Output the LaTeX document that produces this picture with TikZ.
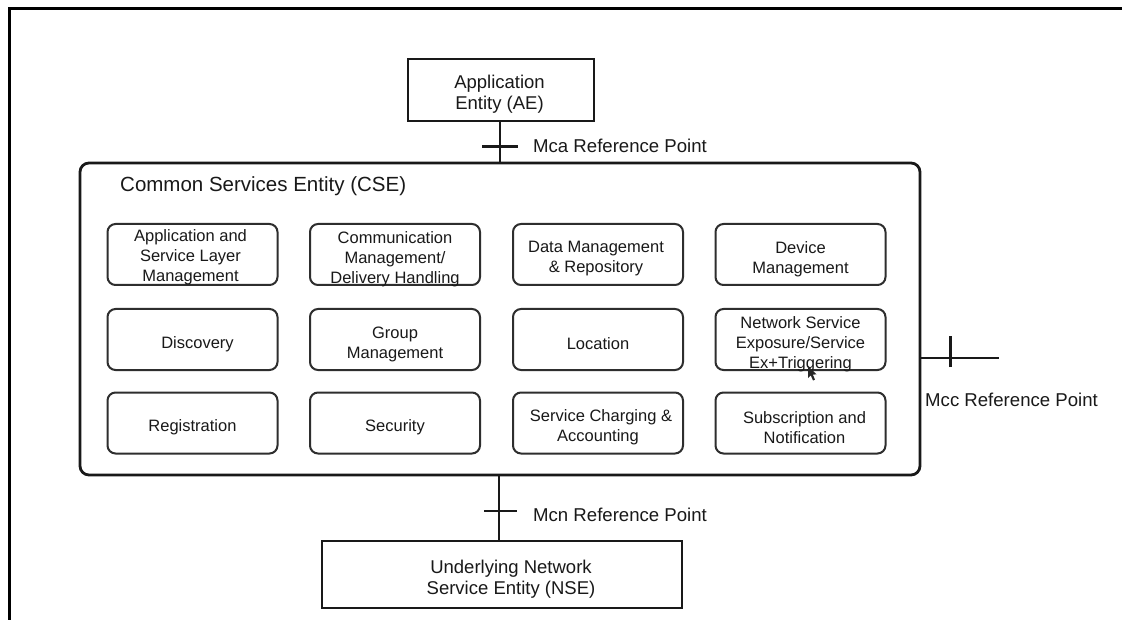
\documentclass[tikz,border=0pt]{standalone}
\usepackage{fontspec}
\setmainfont{Liberation Sans}
\begin{document}
\begin{tikzpicture}[x=1pt,y=-1pt,
  fn/.style={draw=black!82, line width=2pt, rounded corners=8pt,
    minimum width=170pt, minimum height=61pt, inner sep=0pt},
  fntext/.style={align=center, inner sep=0pt, text=black!90, yshift=-4.5pt,
    font=\fontsize{16.5}{20}\selectfont},
  entity/.style={draw=black!90, line width=2.4pt, inner sep=0pt},
  entitytext/.style={align=center, inner sep=0pt, text=black!90, yshift=-4.5pt,
    font=\fontsize{18.5}{21}\selectfont},
  refpt/.style={anchor=west, inner sep=0pt, text=black!90,
    font=\fontsize{18.6}{22}\selectfont},
  link/.style={draw=black!90, line width=2.4pt},
  tickmark/.style={draw=black!90, line width=2.4pt}]

\useasboundingbox (0,0) rectangle (1122,620);
\fill[white] (0,0) rectangle (1122,620);

% page frame (left and top edges)
\draw[line width=3pt] (9,620) -- (9,9) -- (1122,9);

% entities
\node[entity, minimum width=186pt, minimum height=62pt,
  label={[entitytext, xshift=-1.5pt]center:{Application\\Entity (AE)}}] (AE) at (501,90) {};
\node[draw=black!90, line width=2.8pt, rounded corners=9pt,
  minimum width=840pt, minimum height=312pt] (CSE) at (500,319) {};
\node[anchor=west, inner sep=0pt, text=black!90,
  font=\fontsize{20.5}{24}\selectfont] (CSEtitle) at (120,186.5)
  {Common Services Entity (CSE)};
\node[entity, minimum width=360pt, minimum height=67pt,
  label={[entitytext, xshift=9pt]center:{Underlying Network\\Service Entity (NSE)}}]
  (NSE) at (502,574.5) {};

% common service functions
\node[fn, label={[fntext, yshift=2pt, xshift=-2pt]center:{Application and\\Service Layer\\Management}}]
  (asl) at (192.5,254.5) {};
\node[fn, label={[fntext]center:{Communication\\Management/\\Delivery Handling}}]
  (cmdh) at (395,254.5) {};
\node[fn, label={[fntext, xshift=-2pt]center:{Data Management\\\& Repository}}]
  (dmr) at (598,254.5) {};
\node[fn, label={[fntext]center:{Device\\Management}}]
  (dmg) at (800.5,254.5) {};

\node[fn, label={[fntext]center:{\hspace*{10pt}Discovery}}]
  (dis) at (192.5,339.5) {};
\node[fn, label={[fntext]center:{Group\\Management}}]
  (gmg) at (395,339.5) {};
\node[fn, label={[fntext]center:{Location}}]
  (loc) at (598,339.5) {};
\node[fn, label={[fntext]center:{Network Service\\Exposure/Service\\Ex+Triggering}}]
  (nse) at (800.5,339.5) {};

\node[fn, label={[fntext]center:{Registration}}]
  (reg) at (192.5,423) {};
\node[fn, label={[fntext]center:{Security}}]
  (sec) at (395,423) {};
\node[fn, label={[fntext]center:{\hspace*{6pt}Service Charging \&\\Accounting}}]
  (scha) at (598,423) {};
\node[fn, label={[fntext]center:{\hspace*{8pt}Subscription and\\\hspace*{8pt}Notification}}]
  (sub) at (800.5,423) {};

% pointer resting on the Network Service box
\fill[black!85] (808,366) -- (808,378) -- (810.8,375.4) -- (813,380.5)
  -- (815,379.6) -- (812.8,374.6) -- (816.5,374.4) -- cycle;

% Mca reference point
\draw[link] ([xshift=-1pt]AE.south) -- coordinate[pos=0.62] (mca)
  ([xshift=-1pt]AE.south |- CSE.north);
\draw[tickmark] ([xshift=-18pt]mca) -- ([xshift=18pt]mca);
\node[refpt] (mcaLabel) at (533,146) {Mca Reference Point};

% Mcn reference point
\draw[link] ([xshift=-1pt]CSE.south) -- coordinate[pos=0.545] (mcn)
  ([xshift=-1pt]CSE.south |- NSE.north);
\draw[tickmark] ([xshift=-15pt]mcn) -- ([xshift=18pt]mcn);
\node[refpt] (mcnLabel) at (533,514.5) {Mcn Reference Point};

% Mcc reference point
\coordinate (mccEnd) at (999,358);
\draw[link] (CSE.east |- mccEnd) -- coordinate[pos=0.375] (mcc) (mccEnd);
\draw[tickmark] ([yshift=-9pt]mcc) -- ([yshift=22pt]mcc);
\node[refpt] (mccLabel) at (925,400) {Mcc Reference Point};

\end{tikzpicture}
\end{document}
